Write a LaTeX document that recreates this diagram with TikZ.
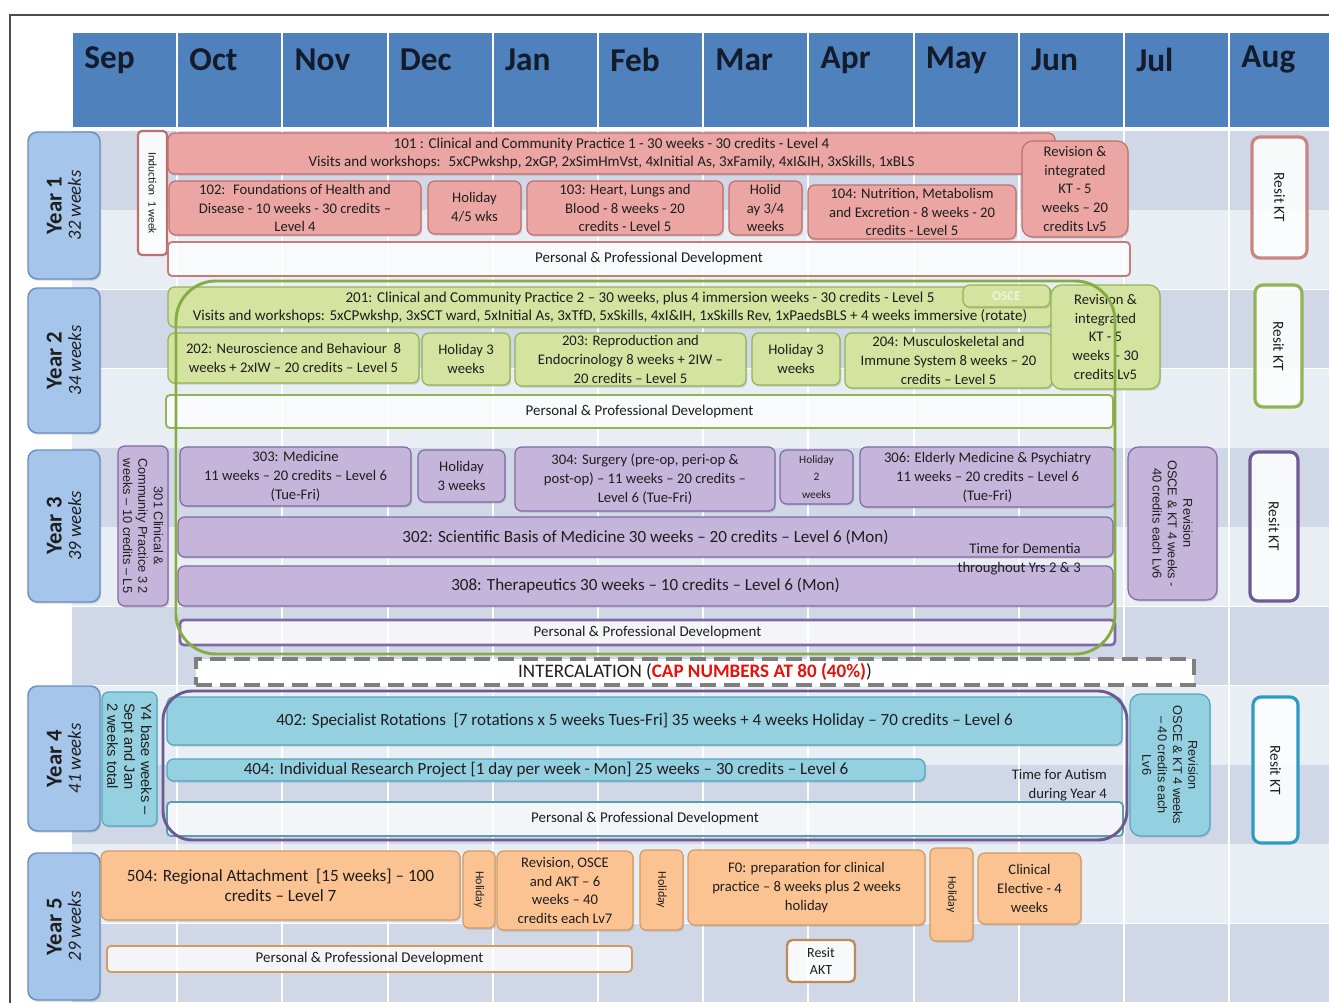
\documentclass[tikz,border=0pt]{standalone}
\usepackage{fontspec}
\setmainfont{Carlito}
\newfontfamily\arialf{Liberation Sans}
\usetikzlibrary{shadows}

\definecolor{hdr}{HTML}{4F81BD}
\definecolor{bandA}{HTML}{D0D8E8}
\definecolor{bandB}{HTML}{E9EDF4}
\definecolor{txt}{HTML}{1E1E1E}
\definecolor{mon}{HTML}{141C2C}
\definecolor{pinkF}{HTML}{EBA6A4}
\definecolor{pinkD}{HTML}{BF6F6C}
\definecolor{grnF}{HTML}{D5E3A0}
\definecolor{grnD}{HTML}{93B454}
\definecolor{grnL}{HTML}{86AD45}
\definecolor{purF}{HTML}{C6B5DB}
\definecolor{purD}{HTML}{8268A6}
\definecolor{purL}{HTML}{6E5A92}
\definecolor{cyaF}{HTML}{95D0E1}
\definecolor{cyaD}{HTML}{4FA8C2}
\definecolor{cyaR}{HTML}{2C9CC4}
\definecolor{orgF}{HTML}{FBC392}
\definecolor{orgD}{HTML}{D39A62}
\definecolor{yrF}{HTML}{A6C5EA}
\definecolor{yrD}{HTML}{6B8FBF}
\definecolor{capred}{HTML}{E3120B}
\definecolor{dashg}{HTML}{7F7F7F}

\newcommand\fs[2]{\fontsize{#1}{#2}\selectfont}
% box from (x1,y1) to (x2,y2) in pixel units
\newcommand\bx[7]{\node[#2, minimum width={(#5-#3)*0.75pt}, minimum height={(#6-#4)*0.75pt}] (#1) at ({(#3+#5)/2},{(#4+#6)/2}) {#7};}
% same, with the text turned by #8 degrees
\newcommand\vbx[8]{\node[#2, rotate=#8, minimum width={(#6-#4)*0.75pt}, minimum height={(#5-#3)*0.75pt}] (#1) at ({(#3+#5)/2},{(#4+#6)/2}) {#7};}
% label of a year: name, top, bottom, number, weeks
\newcommand\yearlbl[5]{\vbx{#1}{yr}{28}{#2}{100}{#3}{{\bfseries\fs{17}{20}Year #4}\\[2.5pt]{\itshape\fs{14}{17}#5 weeks}}{90}}

\begin{document}
\begin{tikzpicture}[x=0.75pt,y=-0.75pt,
  shd/.style={drop shadow={opacity=0.3, shadow xshift=0.9pt, shadow yshift=-1.3pt}},
  mod/.style={draw, rounded corners=5pt, line width=0.9pt, align=center, inner sep=1pt, text=txt, font=\fs{11}{14.2}, shd},
  pk/.style={mod, draw=pinkD, fill=pinkF},
  gr/.style={mod, draw=grnD, fill=grnF},
  pu/.style={mod, draw=purD, fill=purF},
  cy/.style={mod, draw=cyaD, fill=cyaF},
  og/.style={mod, draw=orgD, fill=orgF},
  ppd/.style={draw, rounded corners=3pt, line width=1.4pt, fill=white, fill opacity=0.75, text opacity=1, text=txt, font=\fs{11.2}{13}, inner sep=0pt},
  resit/.style={draw, rounded corners=6pt, line width=2.4pt, fill=white, fill opacity=0.85, text opacity=1, text=txt, font=\fs{11.5}{13}, align=center, inner sep=0pt},
  yr/.style={draw=yrD, fill=yrF, rounded corners=7pt, line width=1.1pt, align=center, text=txt, inner sep=0pt, shd},
  month/.style={font=\bfseries\fs{25}{28}, text=mon, anchor=west, inner sep=0pt},
  note/.style={font=\fs{11}{14.5}, text=txt, align=right, inner sep=0pt},
  vtxt/.style={font=\arialf\fs{9.6}{11.5}},
  long/.style={font=\fs{12.8}{15}}
]
\useasboundingbox (0,0) rectangle (1329,1003);
\fill[white] (0,0) rectangle (1329,1003);

% table body: alternating row bands
\foreach \i in {0,...,10} {
  \pgfmathsetmacro\ya{131+79.27*\i}
  \pgfmathsetmacro\yb{131+79.27*(\i+1)}
  \pgfmathtruncatemacro\odd{mod(\i,2)}
  \ifnum\odd=0
    \fill[bandA] (72,\ya) rectangle (1329,\yb);
  \else
    \fill[bandB] (72,\ya) rectangle (1329,\yb);
  \fi
  \draw[white, line width=0.8pt] (72,\yb) -- (1329,\yb);
}
\foreach \k in {1,...,11}
  \draw[white, line width=1.6pt] ({72+105.2*\k},131) -- ({72+105.2*\k},1003);

% header row with the months
\foreach \m [count=\k from 0] in {Sep,Oct,Nov,Dec,Jan,Feb,Mar,Apr,May,Jun,Jul,Aug} {
  \fill[hdr] ({72+105.2*\k+1},33) rectangle ({72+105.2*(\k+1)-1},127);
  \node[month] (m\k) at ({72+105.2*\k+12},60) {\m};
}

% outer frame
\draw[gray!60!black, line width=0.8pt] (10,1003) -- (10,15) -- (1329,15);

% ---------------- year labels ----------------
\yearlbl{y1}{132}{279}{1}{32}
\yearlbl{y2}{288}{433}{2}{34}
\yearlbl{y3}{450}{602}{3}{39}
\yearlbl{y4}{686}{831}{4}{41}
\yearlbl{y5}{853}{1000}{5}{29}

% ---------------- Year 1 ----------------
\vbx{ind}{resit, draw=pinkD, line width=1.6pt, rounded corners=3pt, font=\fs{8.5}{10}}{138}{131}{167}{255}{Induction~ 1 week}{-90}
\bx{c101}{pk, font=\fs{11.3}{12.8}}{168}{133}{1055}{174}{101 : Clinical and Community Practice 1 - 30 weeks - 30 credits - Level 4\\Visits and workshops:~ 5xCPwkshp, 2xGP, 2xSimHmVst, 4xInitial As, 3xFamily, 4xI\&IH, 3xSkills, 1xBLS}
\bx{c102}{pk}{169}{181}{421}{235}{102:~ Foundations of Health and\\Disease - 10 weeks - 30 credits –\\Level 4}
\bx{h1a}{pk}{428}{181}{521}{234}{Holiday\\4/5 wks}
\bx{c103}{pk}{527}{181}{723}{235}{103: Heart, Lungs and\\Blood - 8 weeks - 20\\credits - Level 5}
\bx{h1b}{pk}{729}{181}{802}{235}{Holid\\ay 3/4\\weeks}
\bx{c104}{pk}{808}{185}{1016}{239}{104: Nutrition, Metabolism\\and Excretion - 8 weeks - 20\\credits - Level 5}
\bx{r1}{pk, rounded corners=8pt}{1022}{141}{1128}{237}{Revision \&\\integrated\\KT - 5\\weeks – 20\\credits Lv5}
\bx{p1}{ppd, draw=pinkD!90}{168}{242}{1130}{276}{Personal \& Professional Development}
\vbx{k1}{resit, draw=pinkD!85}{1252}{137}{1307}{258}{Resit KT}{-90}

% ---------------- Year 2 ----------------
\bx{c201}{gr, font=\fs{11.3}{13.5}}{168}{287}{1052}{327}{\hspace*{45pt}201: Clinical and Community Practice 2 – 30 weeks, plus 4 immersion weeks - 30 credits - Level 5\\Visits and workshops: 5xCPwkshp, 3xSCT ward, 5xInitial As, 3xTfD, 5xSkills, 4xI\&IH, 1xSkills Rev, 1xPaedsBLS + 4 weeks immersive (rotate)}
\bx{osce}{gr, font=\bfseries\fs{10}{12}, text=grnF!40!white}{963}{285}{1050}{307}{OSCE}
\bx{c202}{gr}{168}{333}{419}{383}{202: Neuroscience and Behaviour~ 8\\weeks + 2xIW – 20 credits – Level 5}
\bx{h2a}{gr}{422}{333}{510}{385}{Holiday 3\\weeks}
\bx{c203}{gr}{515}{333}{746}{386}{203: Reproduction and\\Endocrinology 8 weeks + 2IW –\\20 credits – Level 5}
\bx{h2b}{gr}{752}{333}{840}{385}{Holiday 3\\weeks}
\bx{c204}{gr}{845}{333}{1052}{388}{204: Musculoskeletal and\\Immune System 8 weeks – 20\\credits – Level 5}
\bx{r2}{gr, rounded corners=8pt}{1051}{285}{1160}{389}{Revision \&\\integrated\\KT - 5\\weeks – 30\\credits Lv5}
\bx{p2}{ppd, draw=grnD}{166}{395}{1113}{428}{Personal \& Professional Development}
\vbx{k2}{resit, draw=grnD}{1255}{285}{1302}{407}{Resit KT}{-90}

% ---------------- Year 3 ----------------
\vbx{c301}{pu, vtxt}{118}{446}{168}{606}{301 Clinical \&\\Community Practice 3 2\\weeks – 10 credits – L5}{-90}
\bx{c303}{pu}{180}{447}{411}{506}{303: Medicine\\11 weeks – 20 credits – Level 6\\(Tue-Fri)}
\bx{h3a}{pu}{418}{450}{505}{502}{Holiday\\3 weeks}
\bx{c304}{pu}{515}{447}{775}{511}{304: Surgery (pre-op, peri-op \&\\post-op) – 11 weeks – 20 credits –\\Level 6 (Tue-Fri)}
\bx{h3b}{pu, font=\fs{8.5}{13}}{780}{450}{853}{504}{Holiday\\2\\weeks}
\bx{c306}{pu}{860}{447}{1115}{507}{306: Elderly Medicine \& Psychiatry\\11 weeks – 20 credits – Level 6\\(Tue-Fri)}
\bx{c302}{pu, long}{178}{517}{1113}{557}{302: Scientific Basis of Medicine 30 weeks – 20 credits – Level 6 (Mon)}
\bx{c308}{pu, long}{178}{566}{1113}{606}{308: Therapeutics 30 weeks – 10 credits – Level 6 (Mon)}
\node[note, anchor=north east] (tfd) at (1081,543) {Time for Dementia\\throughout Yrs 2 \& 3};
\bx{p3}{ppd, draw=purD, line width=2pt}{180}{620}{1115}{645}{Personal \& Professional Development}
\vbx{r3}{pu, vtxt, rounded corners=8pt}{1128}{447}{1217}{600}{Revision\\OSCE \& KT 4 weeks -\\40 credits each Lv6}{-90}
\vbx{k3}{resit, draw=purL}{1250}{452}{1298}{601}{Resit KT}{-90}

% Years 2 and 3 are grouped by one green outline
\draw[grnL, line width=2.2pt, rounded corners=30pt] (176,281) rectangle (1115,654);

% ---------------- intercalation ----------------
\bx{icl}{draw=dashg, line width=3pt, dash pattern=on 12pt off 6pt, fill=white, text=txt, font=\fs{14.3}{16}, inner sep=0pt}{196}{659}{1194}{685}{INTERCALATION (\textcolor{capred}{\bfseries CAP NUMBERS AT 80 (40\%)})}

% ---------------- Year 4 ----------------
\vbx{y4b}{cy, font=\arialf\fs{11}{12.6}, align=left}{102}{692}{157}{826}{Y4 base weeks –\\Sept and Jan\\2 weeks total}{-90}
\bx{c402}{cy, long}{167}{697}{1122}{745}{402: Specialist Rotations~ [7 rotations x 5 weeks Tues-Fri] 35 weeks + 4 weeks Holiday – 70 credits – Level 6}
\bx{c404}{cy, long}{167}{759}{925}{781}{404: Individual Research Project [1 day per week - Mon] 25 weeks – 30 credits – Level 6}
\node[note, anchor=north east] (tfa) at (1107,769) {Time for Autism\\during Year 4};
\bx{p4}{ppd, draw=cyaD!70!gray}{167}{802}{1123}{836}{Personal \& Professional Development}
\draw[purL, line width=2.2pt, rounded corners=22pt] (163,691) rectangle (1127,840);
\vbx{r4}{cy, vtxt, rounded corners=8pt}{1130}{694}{1210}{836}{Revision\\OSCE \& KT 4 weeks\\– 40 credits each\\Lv6}{-90}
\vbx{k4}{resit, draw=cyaR}{1253}{697}{1298}{843}{Resit KT}{-90}

% ---------------- Year 5 ----------------
\bx{c504}{og, font=\fs{12.9}{15.5}}{101}{851}{460}{920}{504: Regional Attachment~ [15 weeks] – 100\\credits – Level 7}
\vbx{h5a}{og, font=\fs{9}{11}, rounded corners=4pt}{463}{851}{495}{928}{Holiday}{-90}
\bx{rev5}{og}{497}{851}{633}{930}{Revision, OSCE\\and AKT – 6\\weeks – 40\\credits each Lv7}
\vbx{h5b}{og, font=\fs{9}{11}, rounded corners=4pt}{640}{850}{683}{930}{Holiday}{-90}
\bx{f0}{og}{688}{850}{925}{925}{F0: preparation for clinical\\practice – 8 weeks plus 2 weeks\\holiday}
\vbx{h5c}{og, font=\fs{9}{11}, rounded corners=4pt}{930}{848}{973}{941}{Holiday}{-90}
\bx{elec}{og}{978}{853}{1081}{924}{Clinical\\Elective - 4\\weeks}
\bx{p5}{ppd, draw=orgD}{107}{946}{632}{972}{Personal \& Professional Development}
\bx{rakt}{resit, draw=orgD!90!black, line width=1.8pt, rounded corners=4pt, font=\fs{10.5}{13}}{787}{940}{855}{982}{Resit\\AKT}
\end{tikzpicture}
\end{document}
